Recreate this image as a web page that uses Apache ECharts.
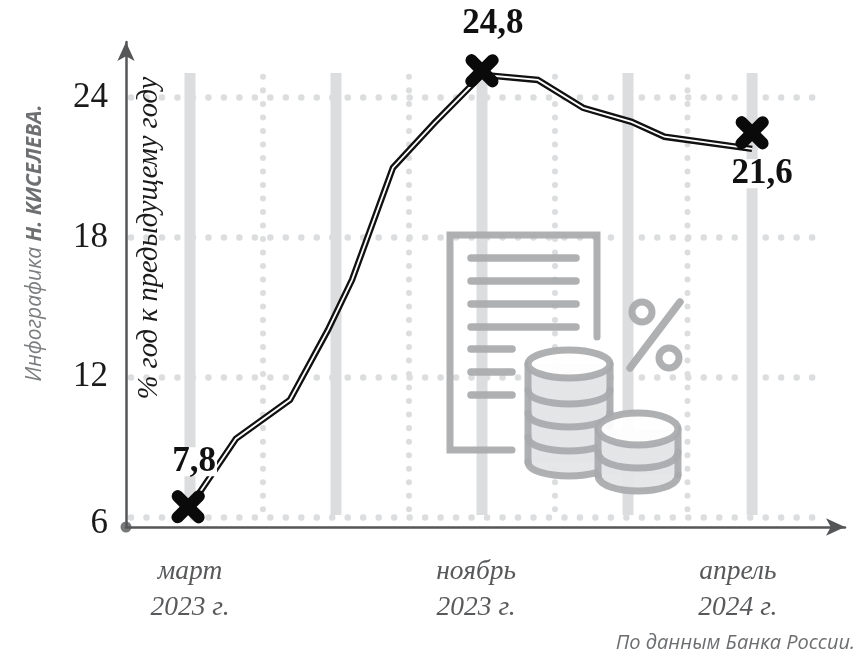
<!DOCTYPE html>
<html><head><meta charset="utf-8">
<style>html,body{margin:0;padding:0;background:#fff}#c{width:857px;height:659px}</style>
<script src="https://cdn.jsdelivr.net/npm/echarts@6/dist/echarts.min.js"></script>
</head><body><div id="c"></div>
<script>
// x = months after March 2023 as placed on the picture's (uneven) scale
const lineMonths = [0, 1.26, 2.74, 3.78, 4.44, 5.56, 6.7, 8, 9.53, 10.77, 12.1, 13.0, 15.4];
const lineValues = [6.44, 9.36, 11.03, 14.03, 16.18, 20.99, 22.92, 24.98, 24.76, 23.56, 22.96, 22.32, 21.8];
const markerMonths = [-0.05, 8, 15.4];
const markerValues = [6.44, 25.15, 22.49];
const markerLabels = ['7,8', '24,8', '21,6'];
const solidGuides = [0, 4, 8, 12, 15.4];
const dottedGuides = [2, 6, 10, 13.63];
const tickMonths = [0, 7.84, 15.01];
const tickLabels = ['март\n2023 г.', 'ноябрь\n2023 г.', 'апрель\n2024 г.'];
const yLabelFont = '"Liberation Serif"';

const GREY = '#dcddde', AXIS = '#555658', ICON = '#a8aaac', ICONFILL = '#e4e5e6';
const labelOffsets = [[6, -45], [11, -47], [10, 41]];
const xPath = 'path://M30.7 5.3L50 24.6L69.3 5.3A18 18 0 0 1 94.7 30.7L75.4 50L94.7 69.3A18 18 0 0 1 69.3 94.7L50 75.4L30.7 94.7A18 18 0 0 1 5.3 69.3L24.6 50L5.3 30.7A18 18 0 0 1 30.7 5.3Z';

const Z = 20, OP = 0.93;
const stroke = (w, extra) => Object.assign({stroke: ICON, lineWidth: w, fill: null, lineCap: 'round', lineJoin: 'miter', opacity: OP}, extra || {});
const iconEls = [];
function poly(points, w) { iconEls.push({type: 'polyline', z: Z, shape: {points}, style: stroke(w)}); }
function seg(x1, y1, x2, y2, w) { iconEls.push({type: 'line', z: Z, shape: {x1, y1, x2, y2}, style: stroke(w)}); }
function ell(cx, cy, rx, ry, fill, w) { iconEls.push({type: 'ellipse', z: Z, shape: {cx, cy, rx, ry}, style: stroke(w, {fill})}); }
function lowerArc(cx, cy, rx, ry, w) {
  iconEls.push({type: 'bezierCurve', z: Z, shape: {x1: cx - rx, y1: cy, x2: cx + rx, y2: cy,
    cpx1: cx - rx, cpy1: cy + ry * 1.33, cpx2: cx + rx, cpy2: cy + ry * 1.33}, style: stroke(w, {fill: ICONFILL})});
}
function stack(cx, rx, ry, centers) {
  const top = centers[0], bot = centers[centers.length - 1];
  iconEls.push({type: 'rect', z: Z, shape: {x: cx - rx, y: top, width: 2 * rx, height: bot - top}, style: {fill: ICONFILL, opacity: 1}});
  for (let i = centers.length - 1; i > 0; i--) lowerArc(cx, centers[i], rx, ry, 7);
  seg(cx - rx, top, cx - rx, bot, 7); seg(cx + rx, top, cx + rx, bot, 7);
  ell(cx, top, rx, ry, '#fff', 7);
}
poly([[597, 337], [597, 235], [450, 235], [450, 450], [512, 450]], 7);
[258, 281, 304, 327].forEach(y => seg(471, y, 576, y, 7.5));
[349, 372, 395].forEach(y => seg(471, y, 512, y, 7.5));
stack(569, 41, 14, [364, 390, 413, 437, 462]);
stack(638, 40, 16, [429, 452, 475]);
iconEls.push({type: 'circle', z: Z, shape: {cx: 642, cy: 312, r: 10}, style: stroke(7)});
iconEls.push({type: 'circle', z: Z, shape: {cx: 669, cy: 358, r: 10}, style: stroke(7)});
seg(680, 302, 630, 368, 7.5);

const dottedSeries = dottedGuides.map(m => ({
  type: 'line', z: 1, showSymbol: false, silent: true, data: [[m, 24.89], [m, 5.92]],
  clip: false, lineStyle: {color: GREY, width: 6, cap: 'round', type: [0.01, 13.5]}
}));
const solidSeries = solidGuides.map(m => ({
  type: 'line', z: 1, showSymbol: false, silent: true, data: [[m, 25.06], [m, 6.09]],
  lineStyle: {color: GREY, width: 11}
}));

const chart = echarts.init(document.getElementById('c'), null, {renderer: 'canvas'});
chart.setOption({
  animation: false,
  backgroundColor: '#fff',
  grid: [
    {left: 131, right: 40, top: 51, bottom: 142},
    {left: 126, right: 12, top: 42, bottom: 132}
  ],
  xAxis: [
    {type: 'value', gridIndex: 0, min: -1.616, max: 17.178,
      axisLine: {show: false}, axisTick: {show: false}, splitLine: {show: false},
      axisLabel: {customValues: tickMonths, margin: 37, lineHeight: 36, fontFamily: yLabelFont, fontStyle: 'italic',
        fontSize: 27.5, color: '#58595b', formatter: v => tickLabels[tickMonths.indexOf(v)] || ''}},
    {type: 'value', gridIndex: 1, min: 0, max: 1, axisLabel: {show: false}, axisTick: {show: false}, splitLine: {show: false},
      axisLine: {show: true, onZero: false, symbol: ['none', 'arrow'], symbolSize: [13, 19], lineStyle: {color: AXIS, width: 2.5}}}
  ],
  yAxis: [
    {type: 'value', gridIndex: 0, min: 6, max: 26, interval: 6,
      axisLine: {show: false}, axisTick: {show: false},
      splitLine: {show: true, showMaxLine: false, lineStyle: {color: GREY, width: 6.5, cap: 'round', type: [0.01, 15.47]}},
      axisLabel: {showMaxLabel: false, margin: 23, fontFamily: yLabelFont, fontSize: 35, color: '#1a1a1a',
        formatter: v => v === 6 ? '{low|6}' : String(v),
        rich: {low: {fontFamily: yLabelFont, fontSize: 35, color: '#1a1a1a', padding: [14, 0, 0, 0]}}}},
    {type: 'value', gridIndex: 1, min: 0, max: 1, axisLabel: {show: false}, axisTick: {show: false}, splitLine: {show: false},
      axisLine: {show: true, onZero: false, symbol: ['none', 'arrow'], symbolSize: [13, 19], lineStyle: {color: AXIS, width: 2.5}}}
  ],
  series: solidSeries.concat(dottedSeries, [
    {type: 'line', z: 3, showSymbol: false, data: lineMonths.map((m, i) => [m, lineValues[i]]),
      lineStyle: {color: '#111', width: 6.5, join: 'miter'}},
    {type: 'line', z: 4, showSymbol: false, data: lineMonths.map((m, i) => [m, lineValues[i]]),
      lineStyle: {color: '#fff', width: 1.8, join: 'miter'}},
    {type: 'scatter', z: 6, symbol: xPath, symbolSize: 33, itemStyle: {color: '#0a0a0a', opacity: 1},
      data: markerMonths.map((m, i) => ({
        value: [m, markerValues[i]],
        label: {show: true, position: 'inside', offset: labelOffsets[i], formatter: markerLabels[i],
          fontFamily: yLabelFont, fontWeight: 'bold', fontSize: 35, color: '#111',
          backgroundColor: '#fff', padding: [-3, 1]}
      }))},
    {type: 'scatter', xAxisIndex: 1, yAxisIndex: 1, z: 5, symbolSize: 11, itemStyle: {color: AXIS}, data: [[0, 0]]}
  ]),
  graphic: iconEls.concat([
    {type: 'text', z: 10, x: 150, y: 238, rotation: Math.PI / 2, style: {
      text: '% год к предыдущему году', align: 'center', verticalAlign: 'middle',
      font: 'italic 28.5px "Liberation Serif"', fill: '#1a1a1a'}},
    {type: 'text', z: 10, x: 35, y: 243, rotation: Math.PI / 2, style: {
      text: '{a|Инфографика }{b|Н. КИСЕЛЕВА.}', align: 'center', verticalAlign: 'middle',
      rich: {a: {font: 'italic 21px "Open Sans"', fill: '#7b7d7f'},
             b: {font: 'italic bold 21px "Open Sans"', fill: '#6d6f71'}}}},
    {type: 'text', z: 10, x: 855, y: 643, style: {
      text: 'По данным Банка России.', align: 'right', verticalAlign: 'middle',
      font: 'italic 20px "Open Sans"', fill: '#6b6d6f'}}
  ])
});
</script></body></html>
